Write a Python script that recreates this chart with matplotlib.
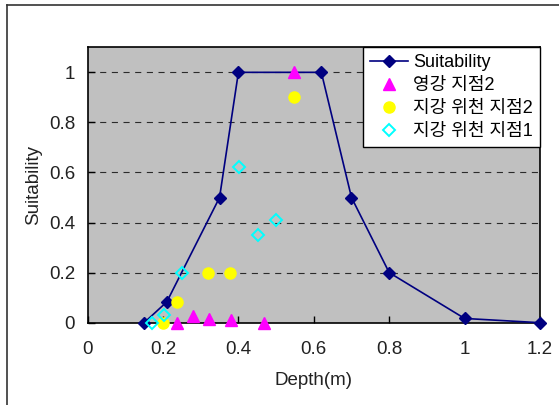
import matplotlib
matplotlib.use("Agg")
import matplotlib.pyplot as plt
from matplotlib.lines import Line2D

plt.rcParams['font.family'] = ['Liberation Sans', 'Noto Sans CJK KR', 'DejaVu Sans']

# Data
suit_x = [0.15, 0.21, 0.35, 0.40, 0.62, 0.70, 0.80, 1.00, 1.20]
suit_y = [0.0, 0.083, 0.5, 1.0, 1.0, 0.5, 0.2, 0.017, 0.0]

yg2_x = [0.548, 0.238, 0.280, 0.322, 0.380, 0.469]
yg2_y = [1.0, 0.0, 0.027, 0.016, 0.011, 0.0]

jw2_x = [0.199, 0.236, 0.320, 0.378, 0.548]
jw2_y = [0.0, 0.084, 0.2, 0.2, 0.902]

jw1_x = [0.170, 0.202, 0.251, 0.402, 0.451, 0.501]
jw1_y = [0.0, 0.03, 0.2, 0.62, 0.351, 0.409]

labels = ['Suitability', '영강 지점2', '지강 위천 지점2', '지강 위천 지점1']
x_ticks = [0, 0.2, 0.4, 0.6, 0.8, 1.0, 1.2]
x_ticklabels = ['0', '0.2', '0.4', '0.6', '0.8', '1', '1.2']
y_ticks = [0, 0.2, 0.4, 0.6, 0.8, 1.0]
y_ticklabels = ['0', '0.2', '0.4', '0.6', '0.8', '1']

W, H = 559, 405
fig = plt.figure(figsize=(W / 100, H / 100), dpi=100)
l, r, t, b = 87.6, 540.0, 47.3, 322.7
ax = fig.add_axes([l / W, 1 - b / H, (r - l) / W, (b - t) / H])
ax.set_facecolor('#C0C0C0')

fs = 13.5
for y in y_ticks[1:]:
    ax.axhline(y, color='#2a2a2a', lw=0.8, dashes=(5.5, 5), zorder=1)

ax.plot(suit_x, suit_y, color='#000080', lw=1.2, marker='D', ms=6.5,
        mfc='#000080', mec='#000080', label=labels[0], zorder=3, clip_on=False)
ax.plot(yg2_x, yg2_y, ls='none', marker='^', ms=8, mfc='#FF00FF', mec='#FF00FF',
        label=labels[1], zorder=4, clip_on=False)
ax.plot(jw2_x, jw2_y, ls='none', marker='o', ms=8, mfc='#FFFF00', mec='#FFFF00',
        label=labels[2], zorder=4, clip_on=False)
ax.plot(jw1_x, jw1_y, ls='none', marker='D', ms=6, mfc='none', mec='#00FFFF',
        mew=1.4, label=labels[3], zorder=4, clip_on=False)

ax.set_xlim(0, 1.2)
ax.set_ylim(0, 1.1)
ax.set_xticks(x_ticks)
ax.set_xticklabels(x_ticklabels)
ax.set_yticks(y_ticks)
ax.set_yticklabels(y_ticklabels)
ax.tick_params(axis='x', direction='in', length=5, width=1, pad=13, labelsize=fs,
               colors='black', labelcolor='#222222')
ax.tick_params(axis='y', direction='in', length=5, width=1, pad=9, labelsize=fs,
               colors='black', labelcolor='#222222')
for s in ax.spines.values():
    s.set_color('black')
    s.set_linewidth(1.2)

ax.set_xlabel('Depth(m)', fontsize=fs, color='#222222', labelpad=10)
ax.set_ylabel('Suitability', fontsize=fs, color='#222222', labelpad=5)

leg = ax.legend(loc='upper right', bbox_to_anchor=(1, 1), borderaxespad=0,
                fancybox=False, framealpha=1, edgecolor='black', facecolor='white',
                fontsize=13, handlelength=2.1, handletextpad=0.3,
                labelspacing=0.33, borderpad=0.38)
leg.get_frame().set_linewidth(1.0)
leg.set_zorder(10)

# outer frame (top and left visible)
fig.add_artist(Line2D([7.3 / W, 7.3 / W], [0, 1 - 5 / H], color='#333333', lw=1.2))
fig.add_artist(Line2D([7.3 / W, 1], [1 - 5 / H, 1 - 5 / H], color='#333333', lw=1.2))

fig.savefig('out.png', dpi=100)
